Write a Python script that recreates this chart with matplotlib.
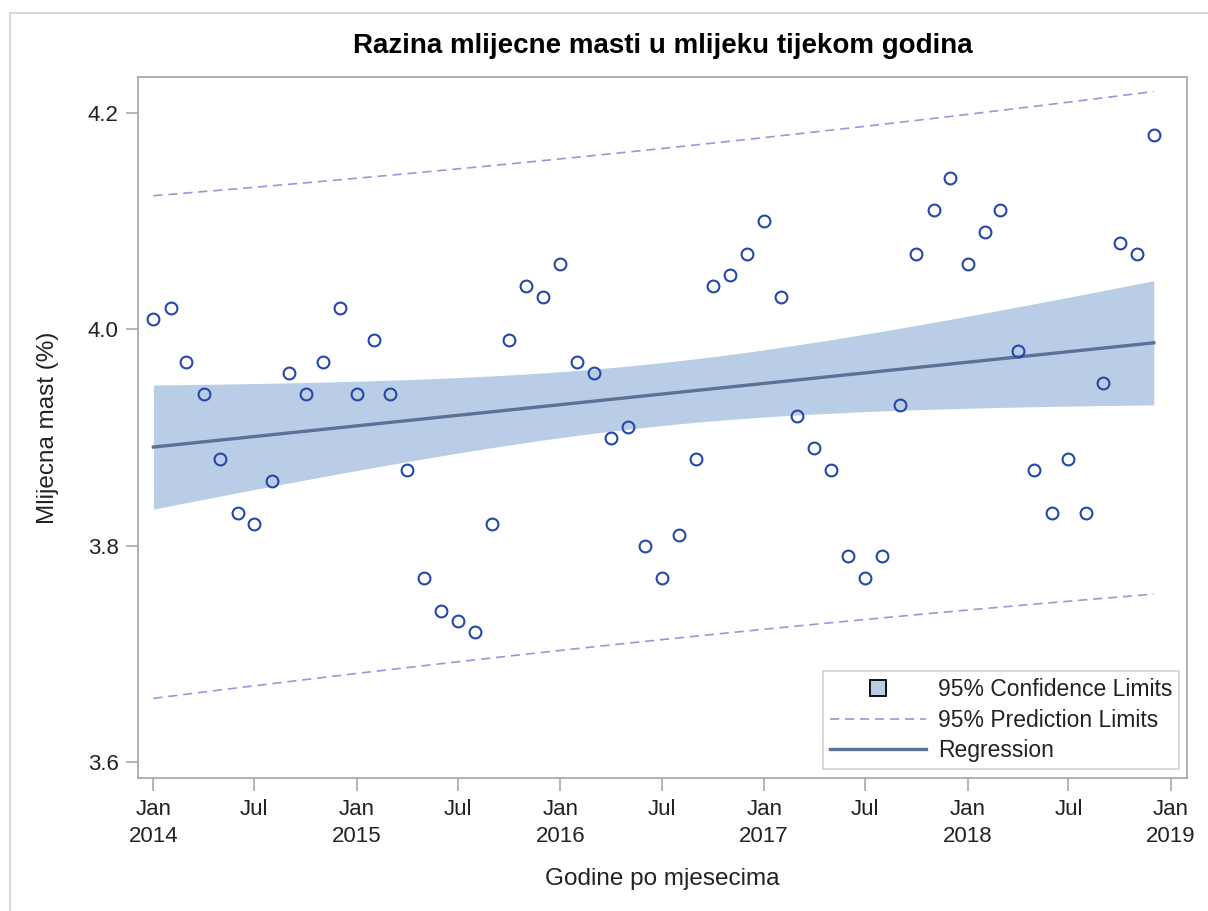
import numpy as np
import matplotlib
matplotlib.use("Agg")
import matplotlib.pyplot as plt
import matplotlib.dates as mdates
from matplotlib.patches import Rectangle
from matplotlib.lines import Line2D
import datetime as dt

plt.rcParams['font.family'] = ['Liberation Sans', 'DejaVu Sans']

# mjesecni podaci, sij 2014 - pro 2018
months = [dt.date(2014 + i // 12, i % 12 + 1, 1) for i in range(60)]
mast = [4.01, 4.02, 3.97, 3.94, 3.88, 3.83, 3.82, 3.86, 3.96, 3.94, 3.97, 4.02,
        3.94, 3.99, 3.94, 3.87, 3.77, 3.74, 3.73, 3.72, 3.82, 3.99, 4.04, 4.03,
        4.06, 3.97, 3.96, 3.90, 3.91, 3.80, 3.77, 3.81, 3.88, 4.04, 4.05, 4.07,
        4.10, 4.03, 3.92, 3.89, 3.87, 3.79, 3.77, 3.79, 3.93, 4.07, 4.11, 4.14,
        4.06, 4.09, 4.11, 3.98, 3.87, 3.83, 3.88, 3.83, 3.95, 4.08, 4.07, 4.18]

tick_dates = [dt.date(2014 + i // 2, 1 if i % 2 == 0 else 7, 1) for i in range(11)]
tick_labels = ["Jan\n%d" % d.year if d.month == 1 else "Jul" for d in tick_dates]

x = mdates.date2num(months)
y = np.array(mast)

# linearna regresija + granice
n = len(x)
b1, b0 = np.polyfit(x, y, 1)
fit = b0 + b1 * x
s = np.sqrt(np.sum((y - fit) ** 2) / (n - 2))
t = 2.0017  # t(0.975, 58)
sxx = np.sum((x - x.mean()) ** 2)
se_mean = s * np.sqrt(1 / n + (x - x.mean()) ** 2 / sxx)
se_pred = s * np.sqrt(1 + 1 / n + (x - x.mean()) ** 2 / sxx)

fig = plt.figure(figsize=(12.08, 9.11), dpi=100)
fig.patches.append(Rectangle((10 / 1208, -0.1), 1.2, 1 - 13 / 911 + 0.1,
                             transform=fig.transFigure, fill=False,
                             edgecolor='#D0D0D0', linewidth=1.2))
ax = fig.add_axes([138 / 1208, 1 - 778 / 911, (1187 - 138) / 1208, (778 - 77) / 911])

fill_c = '#B9CEE6'
reg_c = '#5B7196'
pred_c = '#8F9CD8'
pt_c = '#2547A8'
dash = (0, (5.5, 3.5))

ax.fill_between(x, fit - t * se_mean, fit + t * se_mean, color=fill_c, linewidth=0)
ax.plot(x, fit + t * se_pred, color=pred_c, linestyle=dash, linewidth=1.2)
ax.plot(x, fit - t * se_pred, color=pred_c, linestyle=dash, linewidth=1.2)
ax.plot(x, fit, color=reg_c, linewidth=2.4)
ax.plot(x, y, linestyle='none', marker='o', markersize=8.5, markerfacecolor='none',
        markeredgecolor=pt_c, markeredgewidth=1.5)

ax.set_xlim(mdates.date2num(dt.date(2014, 1, 1)) - 27.6,
            mdates.date2num(dt.date(2019, 1, 1)) + 28.7)
ax.set_ylim(3.5852, 4.2333)
ax.set_xticks(mdates.date2num(tick_dates))
ax.set_xticklabels(tick_labels)
ax.set_yticks([3.6, 3.8, 4.0, 4.2])
ax.set_yticklabels(["3.6", "3.8", "4.0", "4.2"])

for sp in ax.spines.values():
    sp.set_color('#A6AAAE')
    sp.set_linewidth(1.3)
ax.tick_params(axis='both', direction='out', length=9, width=1.2, color='#A6AAAE',
               labelsize=16, labelcolor='#222222')
ax.tick_params(axis='x', pad=6)
ax.tick_params(axis='y', pad=5)
for lab in ax.get_xticklabels():
    lab.set_linespacing(1.4)

ax.set_title("Razina mlijecne masti u mlijeku tijekom godina", fontsize=20,
             fontweight='bold', pad=17)
ax.set_xlabel("Godine po mjesecima", fontsize=17.5, color='#222222', labelpad=15)
ax.set_ylabel("Mlijecna mast (%)", fontsize=17.5, color='#222222', labelpad=21)

handles = [Line2D([], [], linestyle='none', marker='s', markersize=11.5,
                  markerfacecolor=fill_c, markeredgecolor='black', markeredgewidth=1.3),
           Line2D([], [], color=pred_c, linestyle=dash, linewidth=1.2),
           Line2D([], [], color=reg_c, linewidth=2.4)]
leg = ax.legend(handles, ["95% Confidence Limits", "95% Prediction Limits", "Regression"],
                loc='lower right', bbox_to_anchor=(0.9925, 0.013), fontsize=16.5,
                frameon=True, fancybox=False, handlelength=4.2,
                handletextpad=0.5, borderpad=0.3, labelspacing=0.32, borderaxespad=0)
leg.get_frame().set_edgecolor('#C8C8C8')
leg.get_frame().set_linewidth(1.2)
for txt in leg.get_texts():
    txt.set_color('#222222')

fig.savefig("out.png", dpi=100)
